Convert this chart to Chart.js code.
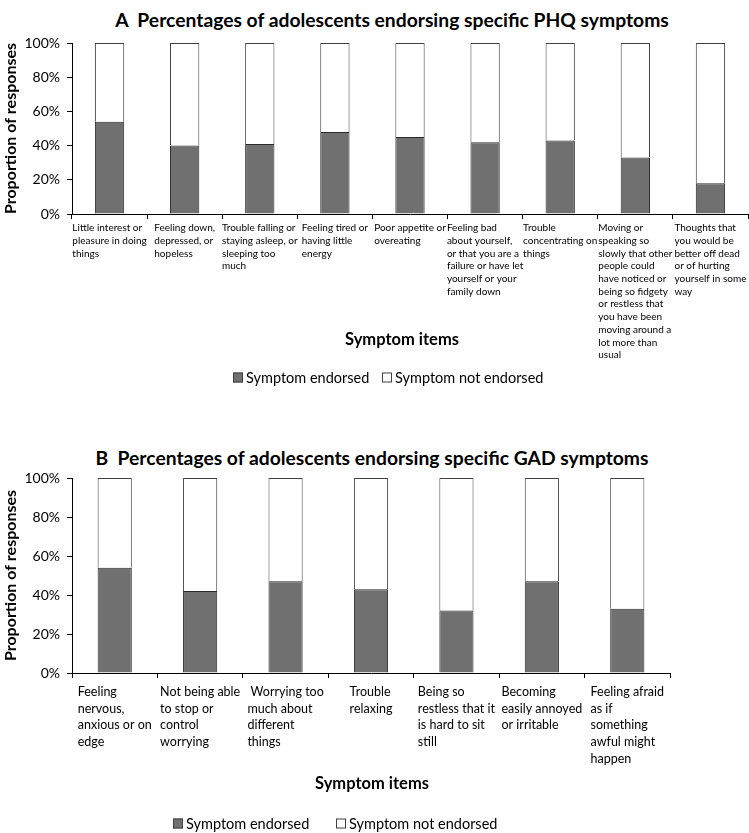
<!DOCTYPE html>
<html>
<head>
<meta charset="utf-8">
<script src="https://cdn.jsdelivr.net/npm/chart.js@4.4.1/dist/chart.umd.min.js"></script>
<style>
  html, body { margin: 0; padding: 0; background: #fff; }
  body { width: 749px; height: 833px; position: relative; overflow: hidden; font-family: Lato, "Open Sans", sans-serif; color: #000; }
  canvas { position: absolute; left: 0; }
  .txt { position: absolute; white-space: nowrap; transform: translate(-50%, -50%); }
  .title { font-weight: bold; font-size: 19.3px; }
  .axisTitle { font-weight: bold; font-size: 16.5px; }
  .legendItem { position: absolute; display: flex; align-items: center; font-size: 14.5px; white-space: nowrap; transform: translateY(-50%); }
  .swatch { width: 10px; height: 10px; box-sizing: border-box; border: 1px solid #404040; margin-right: 3px; }
</style>
</head>
<body>
<div class="txt title" style="left:392px; top:19px;">A&nbsp; Percentages of adolescents endorsing specific PHQ symptoms</div>
<canvas id="chartA" width="749" height="400" style="top:0px;"></canvas>
<div class="txt axisTitle" style="left:402px; top:339px;">Symptom items</div>
<div class="legendItem" style="left:233px; top:377px;"><span class="swatch" style="background:#707070"></span>Symptom endorsed</div>
<div class="legendItem" style="left:382px; top:377px;"><span class="swatch" style="background:#fff"></span>Symptom not endorsed</div>

<div class="txt title" style="left:372px; top:457px;">B&nbsp; Percentages of adolescents endorsing specific GAD symptoms</div>
<canvas id="chartB" width="749" height="393" style="top:440px;"></canvas>
<div class="txt axisTitle" style="left:372px; top:783px;">Symptom items</div>
<div class="legendItem" style="left:173px; top:823px;"><span class="swatch" style="background:#707070"></span>Symptom endorsed</div>
<div class="legendItem" style="left:336px; top:823px;"><span class="swatch" style="background:#fff"></span>Symptom not endorsed</div>

<script>
// data
const phqLabels = [
  ['Little interest or', 'pleasure in doing', 'things'],
  ['Feeling down,', 'depressed, or', 'hopeless'],
  ['Trouble falling or', 'staying asleep, or', 'sleeping too', 'much'],
  ['Feeling tired or', 'having little', 'energy'],
  ['Poor appetite or', 'overeating'],
  ['Feeling bad', 'about yourself,', 'or that you are a', 'failure or have let', 'yourself or your', 'family down'],
  ['Trouble', 'concentrating on', 'things'],
  ['Moving or', 'speaking so', 'slowly that other', 'people could', 'have noticed or', 'being so fidgety', 'or restless that', 'you have been', 'moving around a', 'lot more than', 'usual'],
  ['Thoughts that', 'you would be', 'better off dead', 'or of hurting', 'yourself in some', 'way']
];
const phqEndorsed = [54, 40, 41, 48, 45, 42, 43, 33, 18];
const phqNotEndorsed = [46, 60, 59, 52, 55, 58, 57, 67, 82];

const gadLabels = [
  ['Feeling', 'nervous,', 'anxious or on', 'edge'],
  ['Not being able', 'to stop or', 'control', 'worrying'],
  [' Worrying too', 'much about', 'different', 'things'],
  ['Trouble', 'relaxing'],
  ['Being so', 'restless that it', 'is hard to sit', 'still'],
  ['Becoming', 'easily annoyed', 'or irritable'],
  ['Feeling afraid', 'as if', 'something', 'awful might', 'happen']
];
const gadEndorsed = [54, 42, 47, 43, 32, 47, 33];
const gadNotEndorsed = [46, 58, 53, 57, 68, 53, 67];

const seriesNames = ['Symptom endorsed', 'Symptom not endorsed'];
const yTickStep = 20;

// Excel-style category labels: block centred on the category, lines left aligned
function blockLabelPlugin(lines, font, lineHeight, offset) {
  return {
    id: 'blockLabels',
    afterDraw(chart) {
      const ctx = chart.ctx;
      const xs = chart.scales.x;
      ctx.save();
      ctx.font = font;
      ctx.fillStyle = '#000';
      ctx.textBaseline = 'middle';
      ctx.textAlign = 'left';
      lines.forEach((block, i) => {
        const cx = xs.getPixelForValue(i);
        const w = Math.max(...block.map(l => ctx.measureText(l).width));
        const x0 = cx - w / 2;
        block.forEach((l, k) => ctx.fillText(l, x0, xs.top + offset + k * lineHeight));
      });
      ctx.restore();
    }
  };
}

function renderStackedChart(canvas, labels, endorsed, notEndorsed, o) {
  return new Chart(canvas, {
    type: 'bar',
    data: {
      labels: labels.map(l => l.join(' ')),
      datasets: [
        { label: seriesNames[0], data: endorsed, backgroundColor: '#707070', borderColor: '#2b2b2b', borderWidth: 1, barPercentage: o.barPct, categoryPercentage: 1 },
        { label: seriesNames[1], data: notEndorsed, backgroundColor: '#ffffff', borderColor: '#404040', borderWidth: 1, barPercentage: o.barPct, categoryPercentage: 1 }
      ]
    },
    options: {
      responsive: false,
      animation: false,
      layout: { padding: { top: o.top, right: o.right, left: 0, bottom: 0 } },
      plugins: { legend: { display: false }, tooltip: { enabled: false } },
      scales: {
        x: {
          stacked: true,
          grid: { display: true, drawOnChartArea: false, color: '#000', tickLength: 5, offset: true },
          border: { color: '#000', width: 1 },
          ticks: { display: false },
          afterFit: s => { s.height = o.axisHeight; s.paddingLeft = 0; s.paddingRight = 0; }
        },
        y: {
          stacked: true,
          min: 0,
          max: 100,
          ticks: { stepSize: yTickStep, callback: v => v + '%', padding: 7, color: '#000', font: { family: 'Lato', size: 14 } },
          grid: { drawOnChartArea: false, color: '#000', tickLength: 5 },
          border: { color: '#000', width: 1 },
          title: { display: true, text: 'Proportion of responses', color: '#000', font: { family: 'Lato', size: 16, weight: 'bold' }, padding: { top: 1, bottom: 0 } },
          afterFit: s => { s.width = 72; }
        }
      }
    },
    plugins: [blockLabelPlugin(labels, o.labelFont, o.lineHeight, o.labelTop)]
  });
}

renderStackedChart(document.getElementById('chartA'), phqLabels, phqEndorsed, phqNotEndorsed, {
  top: 43, right: 1, axisHeight: 186, barPct: 0.39,
  labelFont: '10px Lato', lineHeight: 12.7, labelTop: 14
});

renderStackedChart(document.getElementById('chartB'), gadLabels, gadEndorsed, gadNotEndorsed, {
  top: 38, right: 79, axisHeight: 160, barPct: 0.4,
  labelFont: '12.5px Lato', lineHeight: 16.7, labelTop: 19
});
</script>
</body>
</html>
